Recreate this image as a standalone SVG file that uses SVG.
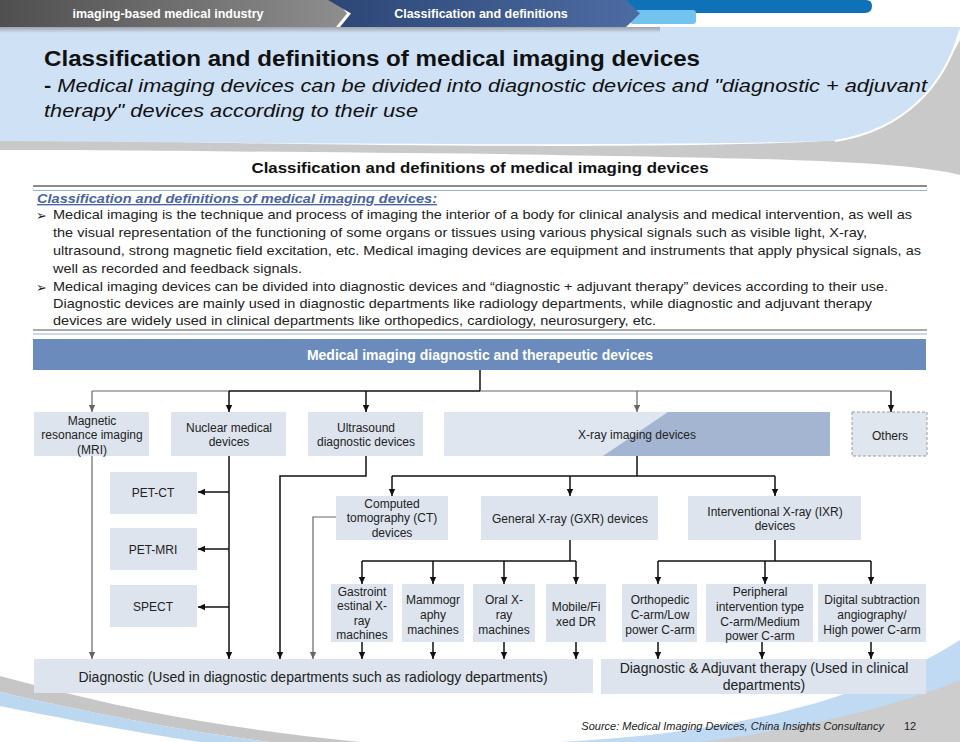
<svg xmlns="http://www.w3.org/2000/svg" width="960" height="742" viewBox="0 0 960 742">
<defs>
<linearGradient id="gTab" x1="0" y1="0" x2="1" y2="0"><stop offset="0" stop-color="#4f4f4f"/><stop offset="1" stop-color="#8e8e8e"/></linearGradient>
<linearGradient id="nTab" x1="0" y1="0" x2="1" y2="0"><stop offset="0" stop-color="#2c4675"/><stop offset="1" stop-color="#4d6ca3"/></linearGradient>
<linearGradient id="shadow" x1="0" y1="0" x2="0" y2="1"><stop offset="0" stop-color="#8a8a8a" stop-opacity="0.7"/><stop offset="1" stop-color="#8a8a8a" stop-opacity="0"/></linearGradient>
<marker id="ab" markerWidth="8" markerHeight="8" refX="7" refY="4" orient="auto" markerUnits="userSpaceOnUse"><path d="M0,0.8 L7,4 L0,7.2 Z" fill="#111"/></marker>
<marker id="ag" markerWidth="8" markerHeight="8" refX="7" refY="4" orient="auto" markerUnits="userSpaceOnUse"><path d="M0,0.8 L7,4 L0,7.2 Z" fill="#666"/></marker>
<style>
text{font-family:"Liberation Sans",Arial,sans-serif;fill:#222}
.box{fill:#dde4ee}
.bt{font-size:12px;text-anchor:middle}
.bl{font-size:13.5px}
.k{fill:none;stroke:#111;stroke-width:1.5}
.g{fill:none;stroke:#666;stroke-width:1.2}
.ka{fill:none;stroke:#111;stroke-width:1.5;marker-end:url(#ab)}
.ga{fill:none;stroke:#666;stroke-width:1.2;marker-end:url(#ag)}
</style>
</defs>
<!-- background -->
<rect x="0" y="0" width="960" height="742" fill="#ffffff"/>
<path d="M0,138 C300,146 700,150 840,140 C900,120 940,80 960,40 L960,175 C900,160 750,158 500,154 C300,152 100,150 0,150 Z" fill="#c9c9c9"/>
<path d="M0,27 L960,27 L960,30 C945,85 905,130 835,141 C600,147 300,143 0,141 Z" fill="#cfe1f5"/>
<path d="M960,30 C945,85 905,130 835,141" fill="none" stroke="#ffffff" stroke-width="2"/>
<rect x="0" y="27" width="660" height="6" fill="url(#shadow)"/>
<!-- bottom swooshes -->
<path d="M0,676 C90,700 190,725 360,742 L270,742 C160,728 70,708 0,692 Z" fill="#c6c6c6"/>
<path d="M0,692 C70,708 160,728 270,742 L200,742 C120,730 50,716 0,706 Z" fill="#bcd8f1"/>
<path d="M560,742 C700,735 850,710 960,640 L960,742 Z" fill="#bfdaf2"/>
<path d="M700,742 C800,730 900,705 960,680 L960,742 Z" fill="#cdcdcd"/>
<!-- top tabs -->
<path d="M620,0 H866 Q872,0 872,6 Q872,13 865,13 H620 Z" fill="#0f72b8"/>
<rect x="630" y="10" width="66" height="14" rx="3" fill="#72c3ee"/>
<path d="M0,0 H336 L347,13.5 L336,27 H0 Z" fill="url(#gTab)"/>
<path d="M328,0 H626 L640,13.5 L626,27 H340 L351,13.5 Z" fill="url(#nTab)"/>
<text x="168" y="18" font-size="12.5" font-weight="bold" text-anchor="middle" style="fill:#ffffff">imaging-based medical industry</text>
<text x="481" y="18" font-size="12.5" font-weight="bold" text-anchor="middle" style="fill:#ffffff">Classification and definitions</text>
<!-- title -->
<text x="44" y="66" font-size="22" font-weight="bold" textLength="656" lengthAdjust="spacingAndGlyphs" style="fill:#111">Classification and definitions of medical imaging devices</text>
<text x="44" y="92" font-size="19" font-style="italic" textLength="883" lengthAdjust="spacingAndGlyphs" style="fill:#111"><tspan font-weight="bold" font-style="normal">- </tspan>Medical imaging devices can be divided into diagnostic devices and "diagnostic + adjuvant</text>
<text x="44" y="117" font-size="19" font-style="italic" textLength="374" lengthAdjust="spacingAndGlyphs" style="fill:#111">therapy" devices according to their use</text>
<!-- panel -->
<text x="480" y="173" font-size="15" font-weight="bold" text-anchor="middle" textLength="457" lengthAdjust="spacingAndGlyphs" style="fill:#111">Classification and definitions of medical imaging devices</text>
<line x1="33" y1="186" x2="927" y2="186" stroke="#8c8c8c" stroke-width="2"/>
<line x1="33" y1="190.5" x2="927" y2="190.5" stroke="#9fb0cc" stroke-width="1.2"/>
<text x="37" y="203" font-size="13.5" font-style="italic" font-weight="bold" text-decoration="underline" textLength="400" lengthAdjust="spacingAndGlyphs" style="fill:#4a64a0">Classification and definitions of medical imaging devices:</text>
<text x="36" y="220" font-size="13" style="font-family:'DejaVu Sans',sans-serif;fill:#222">➢</text>
<text x="36" y="292" font-size="13" style="font-family:'DejaVu Sans',sans-serif;fill:#222">➢</text>
<text class="bl" x="53" y="219" textLength="859" lengthAdjust="spacingAndGlyphs">Medical imaging is the technique and process of imaging the interior of a body for clinical analysis and medical intervention, as well as</text>
<text class="bl" x="53" y="237" textLength="814" lengthAdjust="spacingAndGlyphs">the visual representation of the functioning of some organs or tissues using various physical signals such as visible light, X-ray,</text>
<text class="bl" x="53" y="255" textLength="868" lengthAdjust="spacingAndGlyphs">ultrasound, strong magnetic field excitation, etc. Medical imaging devices are equipment and instruments that apply physical signals, as</text>
<text class="bl" x="53" y="273" textLength="249" lengthAdjust="spacingAndGlyphs">well as recorded and feedback signals.</text>
<text class="bl" x="53" y="291" textLength="835" lengthAdjust="spacingAndGlyphs">Medical imaging devices can be divided into diagnostic devices and “diagnostic + adjuvant therapy” devices according to their use.</text>
<text class="bl" x="53" y="308" textLength="819" lengthAdjust="spacingAndGlyphs">Diagnostic devices are mainly used in diagnostic departments like radiology departments, while diagnostic and adjuvant therapy</text>
<text class="bl" x="53" y="325" textLength="603" lengthAdjust="spacingAndGlyphs">devices are widely used in clinical departments like orthopedics, cardiology, neurosurgery, etc.</text>
<line x1="33" y1="330" x2="927" y2="330" stroke="#8c8c8c" stroke-width="1.5"/>
<line x1="33" y1="334" x2="927" y2="334" stroke="#9fb0cc" stroke-width="1.2"/>
<!-- header bar -->
<g id="root">
<rect x="33" y="339" width="893" height="31" fill="#6a8bbb"/>
<text x="480" y="360" font-size="14" font-weight="bold" text-anchor="middle" style="fill:#ffffff">Medical imaging diagnostic and therapeutic devices</text>
</g>
<!-- connectors -->
<g id="connectors">
<path class="k" d="M480,370 V391"/>
<path class="g" d="M92,391 H229"/>
<path class="k" d="M229,391 H480"/>
<path class="g" d="M480,391 H891"/>
<path class="ga" d="M92,391 V412"/>
<path class="ka" d="M229,391 V412"/>
<path class="ka" d="M366,391 V412"/>
<path class="ga" d="M637,391 V412"/>
<path class="ka" d="M891,391 V412"/>
<path class="ga" d="M92,456 V659"/>
<path class="ka" d="M229,456 V659"/>
<path class="ka" d="M229,492 H198"/>
<path class="ka" d="M229,549 H198"/>
<path class="ka" d="M229,607 H198"/>
<path class="ka" d="M366,456 V476 H280 V659"/>
<path class="ga" d="M336,517 H313 V659"/>
<path class="k" d="M637,456 V476"/>
<path class="k" d="M392,476 H775"/>
<path class="ka" d="M392,476 V496"/>
<path class="ka" d="M570,476 V496"/>
<path class="ka" d="M775,476 V496"/>
<path class="k" d="M570,540 V561"/>
<path class="k" d="M362,561 H576"/>
<path class="ka" d="M362,561 V584"/>
<path class="ka" d="M433,561 V584"/>
<path class="ka" d="M504,561 V584"/>
<path class="ka" d="M576,561 V584"/>
<path class="k" d="M775,540 V561"/>
<path class="k" d="M658,561 H871"/>
<path class="ka" d="M658,561 V584"/>
<path class="ka" d="M765,561 V584"/>
<path class="ka" d="M871,561 V584"/>
<path class="ka" d="M362,642 V659"/>
<path class="ka" d="M433,642 V659"/>
<path class="ka" d="M504,642 V659"/>
<path class="ka" d="M576,642 V659"/>
<path class="ka" d="M658,642 V659"/>
<path class="ka" d="M762,630 V659"/>
<path class="ka" d="M871,636 V659"/>
</g>
<!-- row 1 -->
<g id="mri"><rect class="box" x="34" y="412" width="115" height="44"/>
<text class="bt" x="92" y="425">Magnetic</text><text class="bt" x="92" y="439">resonance imaging</text><text class="bt" x="92" y="454">(MRI)</text></g>
<g id="nuclear"><rect class="box" x="171" y="412" width="115" height="44"/>
<text class="bt" x="229" y="432">Nuclear medical</text><text class="bt" x="229" y="446">devices</text></g>
<g id="ultrasound"><rect class="box" x="308" y="412" width="115" height="44"/>
<text class="bt" x="366" y="432">Ultrasound</text><text class="bt" x="366" y="446">diagnostic devices</text></g>
<g id="xray"><rect x="444" y="412" width="386" height="44" fill="#dfe6f0"/>
<path d="M668,412 H830 V456 H603 Z" fill="#a3b5d1"/>
<text class="bt" x="637" y="439">X-ray imaging devices</text></g>
<g id="others"><rect x="852" y="412" width="75" height="44" fill="#e0e6ee" stroke="#9a9a9a" stroke-dasharray="3,2"/>
<text class="bt" x="890" y="440">Others</text></g>
<!-- nuclear children -->
<g id="petct"><rect class="box" x="110" y="472" width="87" height="42"/><text class="bt" x="153" y="497">PET-CT</text></g>
<g id="petmri"><rect class="box" x="110" y="528" width="87" height="42"/><text class="bt" x="153" y="554">PET-MRI</text></g>
<g id="spect"><rect class="box" x="110" y="585" width="87" height="42"/><text class="bt" x="153" y="611">SPECT</text></g>
<!-- row 2 -->
<g id="ct"><rect class="box" x="336" y="496" width="112" height="44"/>
<text class="bt" x="392" y="508">Computed</text><text class="bt" x="392" y="522">tomography (CT)</text><text class="bt" x="392" y="537">devices</text></g>
<g id="gxr"><rect class="box" x="481" y="496" width="177" height="44"/>
<text class="bt" x="570" y="523">General X-ray (GXR) devices</text></g>
<g id="ixr"><rect class="box" x="688" y="496" width="173" height="44"/>
<text class="bt" x="775" y="516">Interventional X-ray (IXR)</text><text class="bt" x="775" y="530">devices</text></g>
<!-- row 3 -->
<g id="gastro"><rect class="box" x="331" y="584" width="62" height="58"/>
<text class="bt" x="362" y="596">Gastroint</text><text class="bt" x="362" y="610">estinal X-</text><text class="bt" x="362" y="625">ray</text><text class="bt" x="362" y="639">machines</text></g>
<g id="mammo"><rect class="box" x="402" y="584" width="62" height="58"/>
<text class="bt" x="433" y="604">Mammogr</text><text class="bt" x="433" y="619">aphy</text><text class="bt" x="433" y="634">machines</text></g>
<g id="oral"><rect class="box" x="473" y="584" width="62" height="58"/>
<text class="bt" x="504" y="604">Oral X-</text><text class="bt" x="504" y="619">ray</text><text class="bt" x="504" y="634">machines</text></g>
<g id="mobile"><rect class="box" x="546" y="584" width="60" height="58"/>
<text class="bt" x="576" y="611">Mobile/Fi</text><text class="bt" x="576" y="626">xed DR</text></g>
<g id="ortho"><rect class="box" x="622" y="584" width="75" height="58"/>
<text class="bt" x="660" y="604">Orthopedic</text><text class="bt" x="660" y="619">C-arm/Low</text><text class="bt" x="660" y="634">power C-arm</text></g>
<g id="peripheral"><rect class="box" x="706" y="584" width="107" height="58"/>
<text class="bt" x="760" y="596">Peripheral</text><text class="bt" x="760" y="611">intervention type</text><text class="bt" x="760" y="626">C-arm/Medium</text><text class="bt" x="760" y="640">power C-arm</text></g>
<g id="dsa"><rect class="box" x="818" y="584" width="108" height="58"/>
<text class="bt" x="872" y="604">Digital subtraction</text><text class="bt" x="872" y="619">angiography/</text><text class="bt" x="872" y="634">High power C-arm</text></g>
<!-- bottom -->
<g id="diagnostic"><rect class="box" x="34" y="659" width="559" height="34"/>
<text x="313" y="682" font-size="14" text-anchor="middle">Diagnostic (Used in diagnostic departments such as radiology departments)</text></g>
<g id="adjuvant"><rect class="box" x="601" y="659" width="325" height="35"/>
<text x="764" y="673" font-size="14" text-anchor="middle">Diagnostic &amp; Adjuvant therapy (Used in clinical</text>
<text x="764" y="690" font-size="14" text-anchor="middle">departments)</text></g>
<text x="884" y="730" font-size="11" font-style="italic" text-anchor="end">Source: Medical Imaging Devices, China Insights Consultancy</text>
<text x="910" y="730" font-size="11" text-anchor="middle">12</text>
</svg>
